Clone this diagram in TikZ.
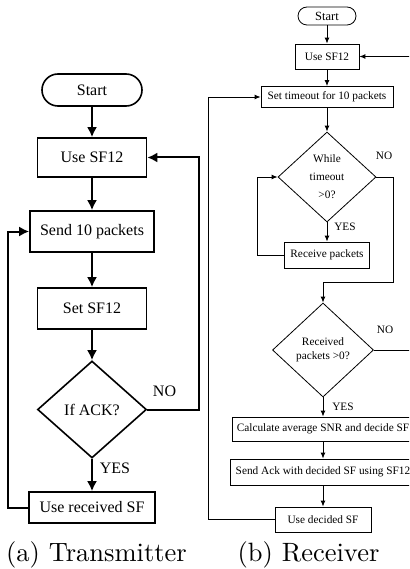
\documentclass[tikz,border=0pt]{standalone}
\usepackage{fontspec}
\newfontfamily\tms{Liberation Serif}
\newfontfamily\capfont{lmroman10-regular}[Extension=.otf]
\usetikzlibrary{shapes.geometric,arrows.meta}
\begin{document}
\begin{tikzpicture}[x=1pt,y=-1pt,
  boxA/.style={draw,line width=1.6pt,font=\tms\fontsize{16}{18}\selectfont,inner sep=0pt,align=center},
  diaA/.style={boxA,diamond},
  lineA/.style={line width=2pt},
  arrA/.style={lineA,-{Latex[length=10pt,width=10pt]}},
  boxB/.style={draw,line width=0.8pt,font=\tms\fontsize{11.3}{13}\selectfont,inner sep=0pt,align=center},
  diaB/.style={boxB,diamond},
  lineB/.style={line width=0.9pt},
  arrB/.style={lineB,-{Latex[length=6pt,width=5pt]}},
  lblA/.style={font=\tms\fontsize{16}{18}\selectfont,inner sep=0pt},
  lblB/.style={font=\tms\fontsize{11.3}{13}\selectfont,inner sep=0pt},
  captext/.style={font=\capfont\fontsize{26.5}{30}\selectfont,anchor=base,inner sep=0pt}
]
\useasboundingbox (0,0) rectangle (409,569);
\clip (0,0) rectangle (409,569);

% ---------- (a) Transmitter ----------
\node[boxA,minimum width=100pt,minimum height=32pt,rounded corners=16pt] (startA) at (92,90) {Start};
\node[boxA,minimum width=109pt,minimum height=39pt] (useA) at (92,157.5) {Use SF12};
\node[boxA,minimum width=124pt,minimum height=41pt] (sendA) at (92,231.5) {Send 10 packets};
\node[boxA,minimum width=109pt,minimum height=41pt] (setA) at (92,308.5) {Set SF12};
\node[diaA,minimum width=109pt,minimum height=97pt] (ifA) at (92,409.5) {If ACK?};
\node[boxA,minimum width=126pt,minimum height=31pt] (recvA) at (92,507.5) {Use received SF};

\draw[arrA] (startA.south) -- (useA.north);
\draw[arrA] (useA.south) -- (sendA.north);
\draw[arrA] (sendA.south) -- (setA.north);
\draw[arrA] (setA.south) -- (ifA.north);
\draw[arrA] (ifA.south) -- (recvA.north);

\coordinate (loopA) at (8,507.5);
\coordinate (noA) at (199,409.5);
\draw[arrA] (recvA.west) -- (loopA) |- (sendA.west);
\draw[arrA] (ifA.east) -- (noA) |- (useA.east);

\node[lblA] (noLA) at (164.5,391) {NO};
\node[lblA] (yesLA) at (115,468) {YES};

% ---------- (b) Receiver ----------
\node[boxB,minimum width=58pt,minimum height=18pt,rounded corners=9pt,font=\tms\fontsize{12.5}{14}\selectfont] (startB) at (327,16) {Start};
\node[boxB,minimum width=64pt,minimum height=25pt] (useB) at (327,56.5) {Use SF12};
\node[boxB,minimum width=132pt,minimum height=21pt] (setB) at (327,97) {Set timeout for 10 packets};
\node[diaB,minimum width=98pt,minimum height=90pt,font=\tms\fontsize{11.3}{18}\selectfont] (whileB) at (327,177) {While\\timeout\\>0?};
\node[boxB,minimum width=85pt,minimum height=26pt] (rcvB) at (327,255) {Receive packets};
\node[diaB,minimum width=101pt,minimum height=94pt,font=\tms\fontsize{11.3}{14}\selectfont] (recB) at (323,350) {Received\\packets >0?};
\node[boxB,minimum width=182pt,minimum height=24pt] (calcB) at (323,429) {Calculate average SNR and decide SF};
\node[boxB,minimum width=186pt,minimum height=26pt] (ackB) at (323,472) {Send Ack with decided SF using SF12};
\node[boxB,minimum width=96pt,minimum height=25pt] (udB) at (323,519.5) {Use decided SF};

\draw[arrB] (startB.south) -- (useB.north);
\draw[arrB] (useB.south) -- (setB.north);
\draw[arrB] (setB.south) -- (whileB.north);
\draw[arrB] (whileB.south) -- (rcvB.north);

\coordinate (loopB) at (257,255);
\draw[arrB] (rcvB.west) -- (loopB) |- (whileB.west);

\coordinate (noB1) at (393,282);
\draw[arrB] (whileB.east) -| (noB1) -| (recB.north);

\coordinate (noB2) at (430,56.5);
\draw[arrB] (recB.east) -| (noB2) -- (useB.east);

\draw[arrB] (recB.south) -- (calcB.north);
\draw[arrB] (calcB.south) -- (ackB.north);
\draw[arrB] (ackB.south) -- (udB.north);

\coordinate (backB) at (208,519.5);
\draw[arrB] (udB.west) -- (backB) |- (setB.west);

\node[lblB] (noLB1) at (384,156) {NO};
\node[lblB] (yesLB1) at (345,227) {YES};
\node[lblB] (noLB2) at (385,330) {NO};
\node[lblB] (yesLB2) at (343,407) {YES};

% ---------- captions ----------
\node[captext] (capA) at (96.5,561) {(a) Transmitter};
\node[captext] (capB) at (308.5,561) {(b) Receiver};
\end{tikzpicture}
\end{document}
